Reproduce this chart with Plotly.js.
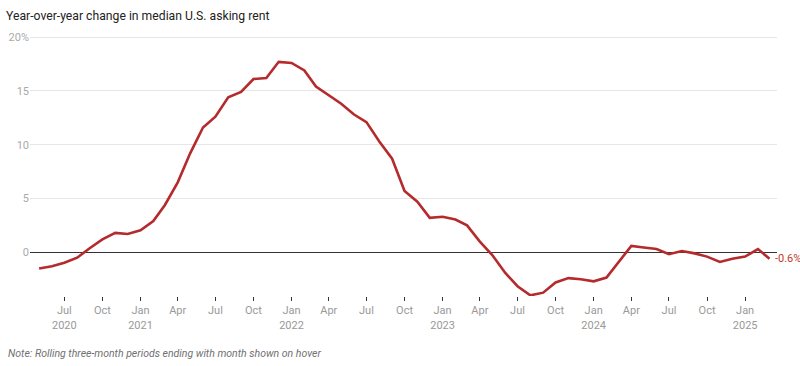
<!DOCTYPE html>
<html>
<head>
<meta charset="utf-8">
<script src="https://cdn.plot.ly/plotly-3.0.1.min.js"></script>
<style>
  html, body { margin: 0; padding: 0; background: #fff; }
  #chart { width: 800px; height: 366px; }
</style>
</head>
<body>
<div id="chart"></div>
<script>
// Monthly periods (rolling three-month period ending in that month)
const months = [
  '2020-05-01','2020-06-01','2020-07-01','2020-08-01','2020-09-01','2020-10-01','2020-11-01','2020-12-01',
  '2021-01-01','2021-02-01','2021-03-01','2021-04-01','2021-05-01','2021-06-01','2021-07-01','2021-08-01',
  '2021-09-01','2021-10-01','2021-11-01','2021-12-01',
  '2022-01-01','2022-02-01','2022-03-01','2022-04-01','2022-05-01','2022-06-01','2022-07-01','2022-08-01',
  '2022-09-01','2022-10-01','2022-11-01','2022-12-01',
  '2023-01-01','2023-02-01','2023-03-01','2023-04-01','2023-05-01','2023-06-01','2023-07-01','2023-08-01',
  '2023-09-01','2023-10-01','2023-11-01','2023-12-01',
  '2024-01-01','2024-02-01','2024-03-01','2024-04-01','2024-05-01','2024-06-01','2024-07-01','2024-08-01',
  '2024-09-01','2024-10-01','2024-11-01','2024-12-01',
  '2025-01-01','2025-02-01','2025-03-01'
];
// Year-over-year change in median asking rent (%)
const yoyChange = [
  -1.5, -1.3, -0.97, -0.5, 0.4, 1.2, 1.8, 1.7,
  2.05, 2.9, 4.4, 6.5, 9.2, 11.6, 12.6, 14.4,
  14.9, 16.1, 16.2, 17.7,
  17.6, 16.9, 15.4, 14.6, 13.8, 12.8, 12.1, 10.3,
  8.7, 5.7, 4.7, 3.2,
  3.3, 3.05, 2.5, 1.0, -0.25, -1.9, -3.15, -4.0,
  -3.75, -2.8, -2.4, -2.5,
  -2.7, -2.35, -0.9, 0.6, 0.45, 0.3, -0.17, 0.12,
  -0.1, -0.4, -0.9, -0.6,
  -0.4, 0.3, -0.6
];
// Axis ticks
const xTickVals = [
  '2020-07-01','2020-10-01','2021-01-01','2021-04-01','2021-07-01','2021-10-01',
  '2022-01-01','2022-04-01','2022-07-01','2022-10-01','2023-01-01','2023-04-01',
  '2023-07-01','2023-10-01','2024-01-01','2024-04-01','2024-07-01','2024-10-01','2025-01-01'
];
const xTickText = [
  'Jul<br>2020','Oct','Jan<br>2021','Apr','Jul','Oct',
  'Jan<br>2022','Apr','Jul','Oct','Jan<br>2023','Apr',
  'Jul','Oct','Jan<br>2024','Apr','Jul','Oct','Jan<br>2025'
];
const yTickVals = [0, 5, 10, 15, 20];
const yTickText = ['0', '5', '10', '15', '20%'];

const titleText = 'Year-over-year change in median U.S. asking rent';
const noteText = 'Note: Rolling three-month periods ending with month shown on hover';

const lineColor = '#b52a2c';
const lastX = months[months.length - 1];
const lastY = yoyChange[yoyChange.length - 1];

const trace = {
  x: months,
  y: yoyChange,
  type: 'scatter',
  mode: 'lines',
  line: { color: lineColor, width: 2.6 },
  hoverinfo: 'x+y'
};

const layout = {
  width: 800,
  height: 366,
  margin: { l: 30, r: 23, t: 36, b: 70 },
  paper_bgcolor: '#ffffff',
  plot_bgcolor: '#ffffff',
  font: { family: 'Roboto, sans-serif', size: 11, color: '#999999' },
  showlegend: false,
  title: {
    text: titleText,
    x: 0.0075, xanchor: 'left', xref: 'container',
    y: 0.958, yanchor: 'middle', yref: 'container',
    font: { family: 'Roboto, sans-serif', size: 12.2, color: '#222222' }
  },
  xaxis: {
    type: 'date',
    range: ['2020-04-09', '2025-03-19'],
    tickmode: 'array',
    tickvals: xTickVals,
    ticktext: xTickText,
    ticks: 'outside',
    ticklen: 4,
    tickwidth: 1,
    tickcolor: '#333333',
    showgrid: false,
    zeroline: false,
    showline: false,
    tickfont: { family: 'Roboto, sans-serif', size: 11, color: '#999999' },
    fixedrange: true
  },
  yaxis: {
    range: [-4.06, 20.1],
    tickmode: 'array',
    tickvals: yTickVals,
    ticktext: yTickText,
    showgrid: true,
    gridcolor: '#e6e6e6',
    gridwidth: 1,
    zeroline: true,
    zerolinecolor: '#333333',
    zerolinewidth: 1,
    showline: false,
    ticks: '',
    tickfont: { family: 'Roboto, sans-serif', size: 11, color: '#aaaaaa' },
    fixedrange: true
  },
  annotations: [
    {
      x: lastX, y: lastY, xref: 'x', yref: 'y',
      text: lastY.toFixed(1) + '%',
      showarrow: false,
      xanchor: 'left', yanchor: 'middle',
      xshift: 3,
      font: { family: 'Roboto, sans-serif', size: 11, color: '#c0392b' }
    },
    {
      x: -0.032, y: -0.223, xref: 'paper', yref: 'paper',
      xanchor: 'left', yanchor: 'middle',
      text: '<i>' + noteText + '</i>',
      showarrow: false,
      font: { family: 'Roboto, sans-serif', size: 10.5, color: '#707070' }
    }
  ]
};

Plotly.newPlot('chart', [trace], layout, { displayModeBar: false, staticPlot: false });
</script>
</body>
</html>
